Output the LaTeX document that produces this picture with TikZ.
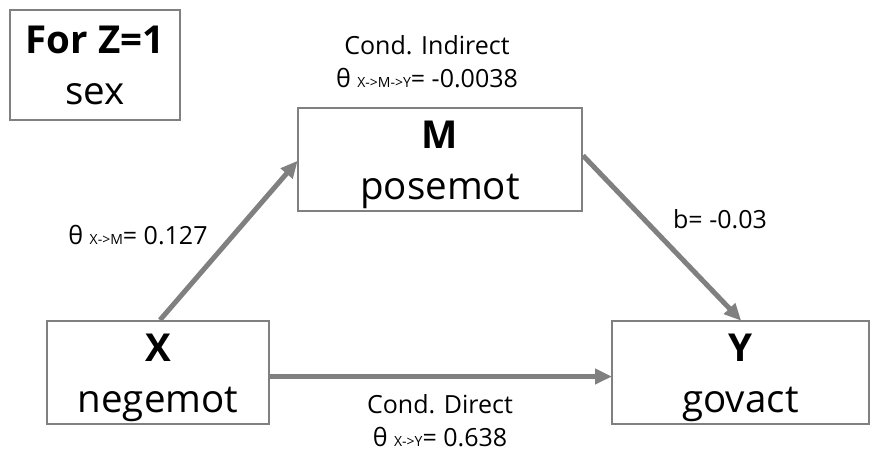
\documentclass[tikz,border=0pt]{standalone}
\usepackage{fontspec}
\setmainfont{Open Sans}
\usepackage{tikz}
\usetikzlibrary{arrows.meta}
\definecolor{boxgray}{RGB}{128,128,128}
\newcommand{\sub}[1]{{\fontsize{14}{14}\selectfont #1}}
\newcommand{\hstrut}{\rule{0pt}{39pt}}
\tikzset{
  box/.style={draw=boxgray, line width=2pt, align=center, inner sep=0pt,
    font=\fontsize{38.5}{51}\selectfont},
  arr/.style={draw=boxgray, line width=5pt, -{Triangle[length=17pt,width=15pt]}, shorten >=-1pt},
  lbl/.style={align=center, inner sep=0pt, font=\fontsize{25}{33}\selectfont}
}
\begin{document}
\begin{tikzpicture}[x=1pt, y=-1pt]
    \useasboundingbox (0, 0) rectangle (883, 467);

    % boxes
    \node[box, minimum width=170, minimum height=110] (z) at (95, 65) {\textbf{For Z=1}\\sex};
    \node[box, minimum width=284, minimum height=103] (m) at (440, 159.5) {\hstrut\textbf{M}\\posemot};
    \node[box, minimum width=222, minimum height=103] (x) at (158, 372.5) {\hstrut\textbf{X}\\negemot};
    \node[box, minimum width=257, minimum height=103] (y) at (740.5, 372.5) {\hstrut\textbf{Y}\\govact};

    % arrows
    \draw[arr] ([xshift=2pt]x.north) -- ([yshift=-2pt]m.west);
    \draw[arr] ([yshift=4pt]m.east) -- (y.north);
    \draw[arr] ([yshift=-4pt]x.east) -- ([yshift=-4pt]y.west);

    % labels
    \node[lbl] (ind) at (427, 62) {Cond. Indirect\\θ \sub{X->M->Y}= -0.0038};
    \node[lbl] (a) at (138, 235) {θ \sub{X->M}= 0.127};
    \node[lbl] (b) at (720, 219) {b= -0.03};
    \node[lbl] (dir) at (440, 421) {Cond. Direct\\θ \sub{X->Y}= 0.638};

\end{tikzpicture}
\end{document}
